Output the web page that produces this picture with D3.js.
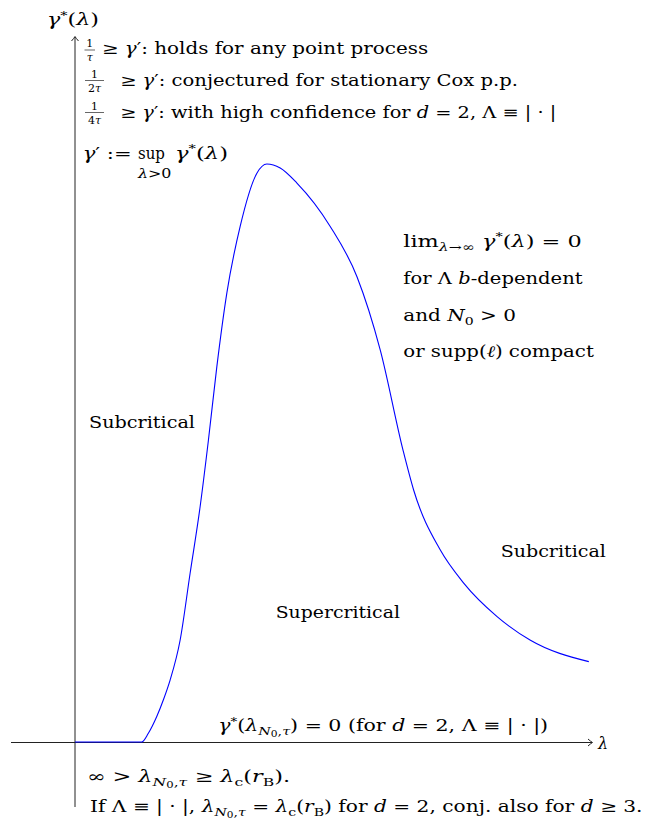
<!DOCTYPE html>
<meta charset="utf-8">
<style>
body { margin: 0; background: #fff; }
svg { display: block; background: #fff; }
.axis { fill: none; stroke: #222; stroke-width: 1px; }
.curve { fill: none; stroke: #0000ff; stroke-width: 1.1px; }
</style>
<body>
<div id="chart"></div>
<script src="https://cdn.jsdelivr.net/npm/d3@7"></script>
<script>

// curve gamma*(lambda)
var lambdaVals = [0, 1.295, 1.423, 1.586, 1.715, 1.845, 2.039, 2.233, 2.427, 2.588, 2.751, 2.946, 3.204, 3.528, 3.722, 3.981, 4.305, 4.951, 5.470, 5.922, 6.363, 6.569, 7.087, 7.540, 8.188, 8.835, 9.967];
var gammaVals  = [0, 0,     0.015, 0.044, 0.073, 0.107, 0.176, 0.292, 0.407, 0.522, 0.649, 0.777, 0.892, 0.984, 1.000, 0.993, 0.967, 0.892, 0.805, 0.678, 0.505, 0.436, 0.332, 0.275, 0.217, 0.176, 0.139];

// text pieces: [string, flags]  i = italic, b = subscript, c = sub-subscript, p = superscript
var topLines = [
  [["≥ ",""],["γ","i"],["′: holds for any point process",""]],
  [["≥ ",""],["γ","i"],["′: conjectured for stationary Cox p.p.",""]],
  [["≥ ",""],["γ","i"],["′: with high confidence for ",""],["d","i"],[" = 2, Λ ≡ | · |",""]]
];
var fracDen = [[["τ","i"]], [["2",""],["τ","i"]], [["4",""],["τ","i"]]];

var rightLines = [
  [["lim",""],["λ","bi"],["→∞","b"],[" ",""],["γ","i"],["*","p"],["(",""],["λ","i"],[") = 0",""]],
  [["for Λ ",""],["b","i"],["-dependent",""]],
  [["and ",""],["N","i"],["0","b"],[" > 0",""]],
  [["or supp(",""],["ℓ","i"],[") compact",""]]
];

var lamN0 = [["λ","i"],["N","bi"],["0","c"],[",","b"],["τ","bi"]];
var zeroLine = [["γ","i"],["*","p"],["(",""]].concat(lamN0, [[") = 0 (for ",""],["d","i"],[" = 2, Λ ≡ | · |)",""]]);
var bottom1 = [["∞ > ",""]].concat(lamN0, [[" ≥ ",""],["λ","i"],["c","b"],["(",""],["r","i"],["B","b"],[").",""]]);
var bottom2 = [["If Λ ≡ | · |, ",""]].concat(lamN0, [[" = ",""],["λ","i"],["c","b"],["(",""],["r","i"],["B","b"],[") for ",""],["d","i"],[" = 2, conj. also for ",""],["d","i"],[" ≥ 3.",""]]);

var width = 649, height = 823, fs = 16;
var serif = "'DejaVu Serif', serif";

var svg = d3.select("#chart").append("svg")
  .attr("width", width)
  .attr("height", height)
  .attr("font-family", serif)
  .style("font-family", serif);

var x = d3.scaleLinear().domain([0, 10]).range([75, 590.5]);
var y = d3.scaleLinear().domain([0, 1]).range([742, 164]);

var x0 = x(0), y0 = y(0) + 0.5;

// axes with tikz-like arrow tips
svg.append("line").attr("class", "axis")
  .attr("x1", 11).attr("y1", y0).attr("x2", 592).attr("y2", y0);
svg.append("line").attr("class", "axis")
  .attr("x1", x0).attr("y1", 807).attr("x2", x0).attr("y2", 37);
svg.append("path").attr("class", "axis")
  .attr("d", "M588,"+(y0-3.5)+" Q591,"+(y0-0.8)+" 592.5,"+y0+" Q591,"+(y0+0.8)+" 588,"+(y0+3.5));
svg.append("path").attr("class", "axis")
  .attr("d", "M"+(x0-3.5)+",41 Q"+(x0-0.8)+",38 "+x0+",36.5 Q"+(x0+0.8)+",38 "+(x0+3.5)+",41");

var pts = lambdaVals.map(function(l, i) { return [l, gammaVals[i]]; });
var line = d3.line()
  .x(function(d) { return x(d[0]); })
  .y(function(d) { return y(d[1]); })
  .curve(d3.curveMonotoneX);
svg.append("path").attr("class", "curve").attr("d", line(pts));

// write a piece of "math" text and stretch it to span [xa, xb]
function label(segs, xa, xb, base, size) {
  size = size || fs;
  var g = svg.append("g");
  var t = g.append("text").attr("font-size", size).attr("fill", "#000");
  var cur = 0;
  segs.forEach(function(s) {
    var f = s[1], shift = 0, k = 1;
    if (f.indexOf("b") >= 0) { shift = 0.25 * size; k = 0.7; }
    if (f.indexOf("c") >= 0) { shift = 0.38 * size; k = 0.52; }
    if (f.indexOf("p") >= 0) { shift = -0.4 * size; k = 0.65; }
    t.append("tspan")
      .attr("dy", shift - cur)
      .attr("font-size", size * k)
      .attr("font-style", f.indexOf("i") >= 0 ? "italic" : "normal")
      .attr("xml:space", "preserve")
      .text(s[0]);
    cur = shift;
  });
  var w = t.node().getComputedTextLength();
  var sx = xb ? (xb - xa) / w : 1;
  g.attr("transform", "translate(" + xa + "," + base + ") scale(" + sx + ",1)");
}

function frac(den, xa, xb, bar) {
  var mid = (xa + xb) / 2;
  svg.append("line")
    .attr("x1", xa).attr("x2", xb).attr("y1", bar).attr("y2", bar)
    .attr("stroke", "#000").attr("stroke-width", 0.6);
  svg.append("text").attr("font-size", 11).attr("text-anchor", "middle")
    .attr("x", mid).attr("y", bar - 3).text("1");
  var t = svg.append("text").attr("font-size", 11)
    .attr("text-anchor", "middle")
    .attr("x", mid).attr("y", bar + 11);
  den.forEach(function(s) {
    t.append("tspan").attr("font-style", s[1] === "i" ? "italic" : "normal").text(s[0]);
  });
}

// top-left axis title
label([["γ","i"],["*","p"],["(",""],["λ","i"],[")",""]], 47, 99, 25);

// bounds on gamma'
var fracX = [[84.5, 95], [85, 104], [85, 104]];
var barY = [50, 80.5, 112.5];
var lineX = [[101.7, 428.3], [120, 518.3], [120, 556.7]];
var lineY = [54, 85.5, 117.5];
topLines.forEach(function(segs, i) {
  frac(fracDen[i], fracX[i][0], fracX[i][1], barY[i]);
  label(segs, lineX[i][0], lineX[i][1], lineY[i]);
});

// gamma' := sup gamma*(lambda)
label([["γ","i"],["′ :=",""]], 82.7, 131.7, 158.5);
label([["sup",""]], 138, 165, 158.5);
label([["λ","i"],[">0",""]], 138, 171.5, 177.5, 12);
label([["γ","i"],["*","p"],["(",""],["λ","i"],[")",""]], 175, 228, 158.5);

// right-hand remark
var rightY = [246.5, 284, 320.5, 357];
var rightEnd = [581.7, 582.7, 516, 594];
rightLines.forEach(function(segs, i) {
  label(segs, 403.3, rightEnd[i], rightY[i]);
});

// regions
label([["Subcritical",""]], 89, 195, 428);
label([["Supercritical",""]], 275.7, 400, 618);
label([["Subcritical",""]], 500.7, 606, 556.5);

label(zeroLine, 218.3, 548.3, 731);
label([["λ","i"]], 598, null, 749);
label(bottom1, 86.7, 290, 781.5);
label(bottom2, 90, 643, 811.5);

</script>
</body>
